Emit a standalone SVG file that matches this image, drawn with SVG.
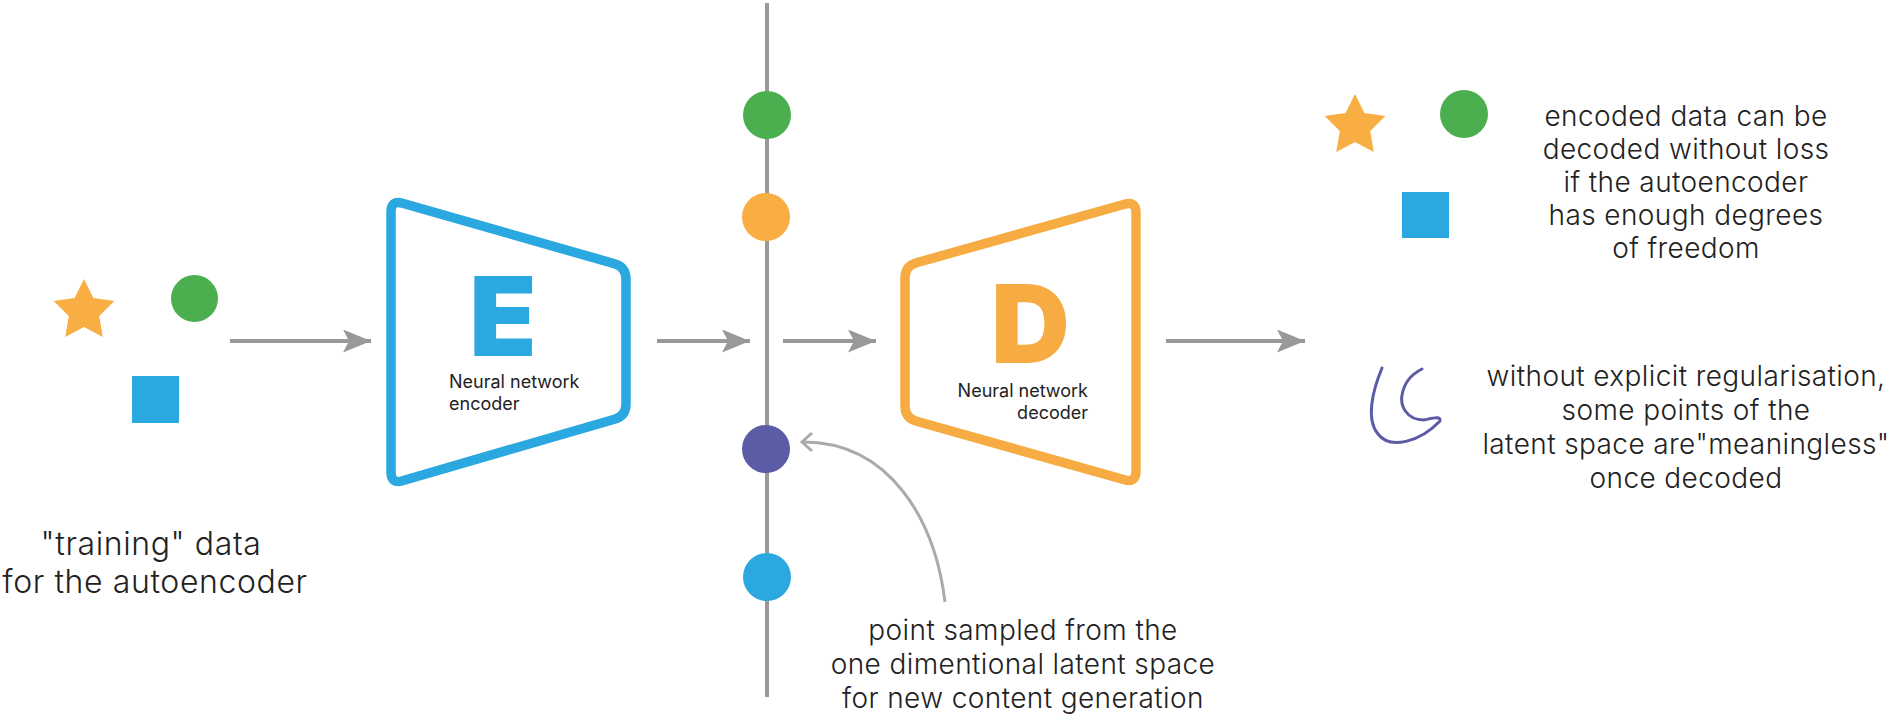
<svg xmlns="http://www.w3.org/2000/svg" width="1900" height="720" viewBox="0 0 1900 720">
<style>
.lbl{font-family:Inter,"Noto Sans","Liberation Sans",sans-serif;font-weight:300;fill:#222;}
.big{font-size:32px;letter-spacing:0.6px;text-anchor:middle;}
.mid{font-size:28px;letter-spacing:0.4px;text-anchor:middle;}
.small{font-family:Inter,"Noto Sans","Liberation Sans",sans-serif;font-weight:400;font-size:18px;fill:#222;}
.letter{font-family:Inter,"Liberation Sans",sans-serif;font-weight:900;text-anchor:middle;}
.conn{stroke:#999;stroke-width:4;fill:none;}
</style>
<defs>
<marker id="ah" markerUnits="userSpaceOnUse" markerWidth="30" markerHeight="24" refX="28" refY="11.5" orient="auto" viewBox="0 0 30 24">
<path d="M0,0 L28,11.5 L0,23 L6,11.5 Z" fill="#999"/>
</marker>
<path id="star" d="M0,-32 L9.4,-12.9 L30.4,-9.9 L15.2,4.9 L18.8,25.9 L0,16 L-18.8,25.9 L-15.2,4.9 L-30.4,-9.9 L-9.4,-12.9 Z" fill="#F8AE42"/>
</defs>
<rect width="1900" height="720" fill="#fff"/>

<g id="latent-axis">
<line x1="767" y1="3" x2="767" y2="697" stroke="#999" stroke-width="4"/>
</g>

<g id="connectors">
<line class="conn" x1="230" y1="341" x2="371" y2="341" marker-end="url(#ah)"/>
<line class="conn" x1="657" y1="341" x2="750" y2="341" marker-end="url(#ah)"/>
<line class="conn" x1="783" y1="341" x2="876" y2="341" marker-end="url(#ah)"/>
<line class="conn" x1="1166" y1="341" x2="1305" y2="341" marker-end="url(#ah)"/>
<path d="M945,602 C935,520 890,442 803,442" stroke="#aaa" stroke-width="3" fill="none"/>
<path d="M812,433 L802,442 L812,451" stroke="#aaa" stroke-width="3" fill="none"/>
</g>

<g id="training-data">
<use href="#star" x="84" y="311"/>
<circle cx="194.5" cy="298.5" r="23.5" fill="#4BAE4F"/>
<rect x="132" y="376" width="47" height="47" fill="#2CA8E0"/>
<text class="lbl big" x="151" y="555">"training" data</text>
<text class="lbl big" x="155" y="593">for the autoencoder</text>
</g>

<g id="encoder">
<path d="M391,212 Q391,200 402.5,203.3 L614.5,263.7 Q626,267 626,279 L626,404 Q626,416 614.5,419.3 L402.5,480.7 Q391,484 391,472 Z" fill="none" stroke="#2CA8E0" stroke-width="9.5" stroke-linejoin="round"/>
<text class="letter" x="503" y="356" font-size="110" fill="#2CA8E0">E</text>
<text class="small" x="449" y="388">Neural network</text>
<text class="small" x="449" y="410">encoder</text>
</g>

<g id="latent-points">
<circle cx="767" cy="115" r="24" fill="#4BAE4F"/>
<circle cx="766" cy="217" r="24" fill="#F8AE42"/>
<circle cx="766" cy="449" r="24" fill="#5B5BA6"/>
<circle cx="767" cy="577" r="24" fill="#2CA8E0"/>
</g>

<g id="decoder">
<path d="M905,278 Q905,266 916.55,262.75 L1124.45,204.25 Q1136,201 1136,213 L1136,471 Q1136,483 1124.45,479.75 L916.55,421.25 Q905,418 905,406 Z" fill="none" stroke="#F6AC42" stroke-width="9.5" stroke-linejoin="round"/>
<text class="letter" x="1030.5" y="363" font-size="109" fill="#F6AC42">D</text>
<text class="small" x="1088" y="397" text-anchor="end">Neural network</text>
<text class="small" x="1088" y="419" text-anchor="end">decoder</text>
</g>

<g id="sampled-note">
<text class="lbl mid" x="1023" y="640">point sampled from the</text>
<text class="lbl mid" x="1023" y="674">one dimentional latent space</text>
<text class="lbl mid" x="1023" y="708">for new content generation</text>
</g>

<g id="decoded-data">
<use href="#star" x="1355" y="126"/>
<circle cx="1464" cy="114" r="24" fill="#4BAE4F"/>
<rect x="1402" y="192" width="47" height="46" fill="#2CA8E0"/>
<text class="lbl mid" x="1686" y="126">encoded data can be</text>
<text class="lbl mid" x="1686" y="159">decoded without loss</text>
<text class="lbl mid" x="1686" y="192">if the autoencoder</text>
<text class="lbl mid" x="1686" y="225">has enough degrees</text>
<text class="lbl mid" x="1686" y="258">of freedom</text>
</g>

<g id="meaningless">
<path d="M1382,368 C1372,392 1366,420 1378,434 C1390,450 1420,442 1440,421 C1441,416 1434,418 1424,420 C1406,420 1400,405 1402,395 C1404,383 1412,374 1422,369" fill="none" stroke="#5B5BA6" stroke-width="3" stroke-linecap="round"/>
<text class="lbl mid" x="1686" y="386">without explicit regularisation,</text>
<text class="lbl mid" x="1686" y="420">some points of the</text>
<text class="lbl mid" x="1686" y="454">latent space are"meaningless"</text>
<text class="lbl mid" x="1686" y="488">once decoded</text>
</g>
</svg>
